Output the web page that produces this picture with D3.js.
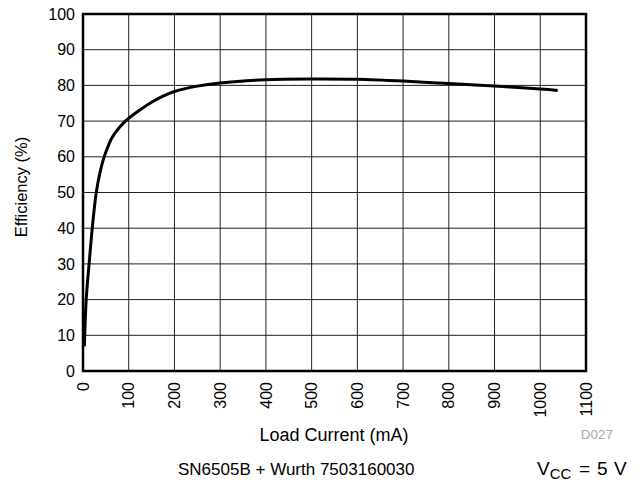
<!DOCTYPE html>
<html>
<head>
<meta charset="utf-8">
<script src="https://cdn.jsdelivr.net/npm/d3@7"></script>
<style>
  body { margin: 0; background: #fff; }
  text { font-family: "Liberation Sans", Arial, sans-serif; }
</style>
</head>
<body>
<div id="chart"></div>
<script>
// Load current (mA) and efficiency (%)
const loadCurrent = [3, 7, 14, 21, 29, 37, 45, 55, 63, 80, 100, 125, 150, 175, 200, 250, 300, 400, 500, 600, 700, 800, 900, 1000, 1038];
const efficiency  = [6.9, 20, 31, 41, 50, 55.5, 59.5, 63, 65.3, 68.3, 70.8, 73.2, 75.3, 77.0, 78.3, 79.8, 80.7, 81.6, 81.8, 81.7, 81.2, 80.5, 79.8, 79.0, 78.6];
const xTicks = d3.range(0, 1101, 100);
const yTicks = d3.range(0, 101, 10);

const width = 643, height = 484;
const margin = { left: 83, right: 57, top: 14, bottom: 113 };

const svg = d3.select('#chart')
  .append('svg')
  .attr('width', width)
  .attr('height', height);

const x = d3.scaleLinear().domain([0, 1100]).range([margin.left, width - margin.right]);
const y = d3.scaleLinear().domain([0, 100]).range([height - margin.bottom, margin.top]);

// grid
svg.append('g')
  .selectAll('line')
  .data(xTicks)
  .join('line')
  .attr('x1', d => x(d)).attr('x2', d => x(d))
  .attr('y1', y(0)).attr('y2', y(100))
  .attr('stroke', '#222').attr('stroke-width', 1);

svg.append('g')
  .selectAll('line')
  .data(yTicks)
  .join('line')
  .attr('x1', x(0)).attr('x2', x(1100))
  .attr('y1', d => y(d)).attr('y2', d => y(d))
  .attr('stroke', '#222').attr('stroke-width', 1);

// curve
const line = d3.line()
  .x((d, i) => x(loadCurrent[i]))
  .y(d => y(d))
  .curve(d3.curveCatmullRom.alpha(0.5));

svg.append('path')
  .datum(efficiency)
  .attr('d', line)
  .attr('fill', 'none')
  .attr('stroke', '#000')
  .attr('stroke-width', 3);

// frame
svg.append('rect')
  .attr('x', x(0)).attr('y', y(100))
  .attr('width', x(1100) - x(0))
  .attr('height', y(0) - y(100))
  .attr('fill', 'none')
  .attr('stroke', '#000')
  .attr('stroke-width', 2.5);

// y tick labels
svg.append('g')
  .selectAll('text')
  .data(yTicks)
  .join('text')
  .attr('x', x(0) - 8)
  .attr('y', d => y(d))
  .attr('dy', '0.35em')
  .attr('text-anchor', 'end')
  .style('font-size', '16px')
  .text(d => d);

// x tick labels (rotated)
svg.append('g')
  .selectAll('text')
  .data(xTicks)
  .join('text')
  .attr('transform', d => `translate(${x(d)},${y(0) + 11}) rotate(-90)`)
  .attr('dy', '0.35em')
  .attr('text-anchor', 'end')
  .style('font-size', '16px')
  .text(d => d);

svg.append('text')
  .attr('transform', 'translate(27,187) rotate(-90)')
  .attr('text-anchor', 'middle')
  .style('font-size', '16.5px')
  .text('Efficiency (%)');

svg.append('text')
  .attr('x', 334)
  .attr('y', 441)
  .attr('text-anchor', 'middle')
  .style('font-size', '18px')
  .text('Load Current (mA)');

svg.append('text')
  .attr('x', 613)
  .attr('y', 439)
  .attr('text-anchor', 'end')
  .attr('fill', '#aaa')
  .style('font-size', '13.5px')
  .text('D027');

svg.append('text')
  .attr('x', 178)
  .attr('y', 475)
  .style('font-size', '17px')
  .text('SN6505B + Wurth 7503160030');

const vcc = svg.append('text')
  .attr('y', 475)
  .style('font-size', '19px');
vcc.append('tspan').attr('x', 537).text('V');
vcc.append('tspan').attr('dy', 4).style('font-size', '15px').text('CC');
vcc.append('tspan').attr('dy', -4).attr('x', 579).text('=');
vcc.append('tspan').attr('x', 597).text('5');
vcc.append('tspan').attr('x', 614).text('V');
</script>
</body>
</html>
